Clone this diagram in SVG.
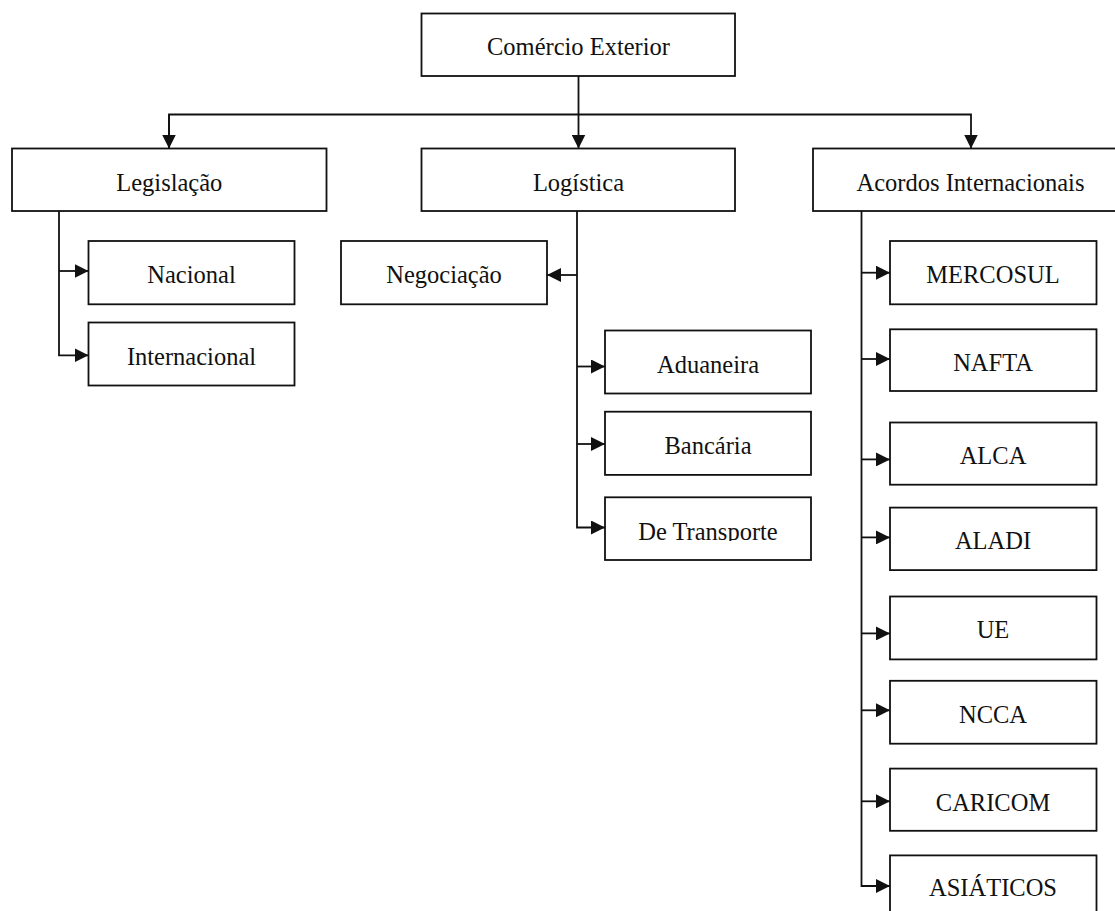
<svg xmlns="http://www.w3.org/2000/svg" width="1115" height="911" viewBox="0 0 1115 911">
<style>
  .box { fill: #fff; stroke: #111; stroke-width: 1.8; }
  .lbl { font-family: "Liberation Serif", "Times New Roman", serif; font-size: 24.5px; fill: #111; text-anchor: middle; }
  .ln { fill: none; stroke: #111; stroke-width: 1.8; }
</style>
<defs>
  <marker id="ah" markerUnits="userSpaceOnUse" markerWidth="14" markerHeight="14" viewBox="0 0 14 14" refX="14" refY="7" orient="auto">
    <path d="M0,0 L14,7 L0,14 Z" fill="#111"/>
  </marker>
  <clipPath id="clipDT"><rect x="600" y="490" width="220" height="51"/></clipPath>
</defs>
<rect width="1115" height="911" fill="#fff"/>

<g id="connectors">
  <path class="ln" d="M578.5,76 V148.5" marker-end="url(#ah)"/>
  <path class="ln" d="M169,148.5 V114.5 H971 V148.5" marker-end="url(#ah)"/>
  <path class="ln" d="M169,114.5 V148.5" marker-end="url(#ah)"/>
  <path class="ln" d="M59,211 V355.3 H88.5" marker-end="url(#ah)"/>
  <path class="ln" d="M59,271 H88.5" marker-end="url(#ah)"/>
  <path class="ln" d="M577,211 V527.5 H605" marker-end="url(#ah)"/>
  <path class="ln" d="M577,275 H547" marker-end="url(#ah)"/>
  <path class="ln" d="M577,366.5 H605" marker-end="url(#ah)"/>
  <path class="ln" d="M577,444 H605" marker-end="url(#ah)"/>
  <path class="ln" d="M861.5,211 V886 H890" marker-end="url(#ah)"/>
  <path class="ln" d="M861.5,272.7 H890" marker-end="url(#ah)"/>
  <path class="ln" d="M861.5,359 H890" marker-end="url(#ah)"/>
  <path class="ln" d="M861.5,459.4 H890" marker-end="url(#ah)"/>
  <path class="ln" d="M861.5,537.4 H890" marker-end="url(#ah)"/>
  <path class="ln" d="M861.5,633.4 H890" marker-end="url(#ah)"/>
  <path class="ln" d="M861.5,710.3 H890" marker-end="url(#ah)"/>
  <path class="ln" d="M861.5,801.3 H890" marker-end="url(#ah)"/>
</g>

<g id="n-comercio"><rect class="box" x="421.5" y="13.5" width="313.5" height="62.5"/><text class="lbl" x="578.5" y="55">Comércio Exterior</text></g>
<g id="n-legislacao"><rect class="box" x="12" y="148.5" width="314.5" height="62.5"/><text class="lbl" x="169.3" y="190.5">Legislação</text></g>
<g id="n-logistica"><rect class="box" x="421.5" y="148.5" width="313.5" height="62.5"/><text class="lbl" x="578.5" y="190.5">Logística</text></g>
<g id="n-acordos"><rect class="box" x="813" y="148.5" width="315" height="62.5"/><text class="lbl" x="970.5" y="190.5">Acordos Internacionais</text></g>

<g id="n-nacional"><rect class="box" x="88.5" y="241" width="206" height="63.3"/><text class="lbl" x="191.5" y="283">Nacional</text></g>
<g id="n-internacional"><rect class="box" x="88.5" y="322.5" width="206" height="63"/><text class="lbl" x="191.5" y="364.5">Internacional</text></g>

<g id="n-negociacao"><rect class="box" x="341" y="241" width="206" height="63.3"/><text class="lbl" x="444" y="283">Negociação</text></g>
<g id="n-aduaneira"><rect class="box" x="605" y="330.5" width="206" height="63"/><text class="lbl" x="708" y="372.5">Aduaneira</text></g>
<g id="n-bancaria"><rect class="box" x="605" y="411.7" width="206" height="63.2"/><text class="lbl" x="708" y="453.5">Bancária</text></g>
<g id="n-transporte"><rect class="box" x="605" y="497.3" width="206" height="62.7"/><text class="lbl" x="708" y="540" clip-path="url(#clipDT)">De Transporte</text></g>

<g id="n-mercosul"><rect class="box" x="890" y="241" width="206.5" height="63.3"/><text class="lbl" x="993" y="283">MERCOSUL</text></g>
<g id="n-nafta"><rect class="box" x="890" y="329.3" width="206.5" height="61.7"/><text class="lbl" x="993" y="370.5">NAFTA</text></g>
<g id="n-alca"><rect class="box" x="890" y="422.5" width="206.5" height="62.2"/><text class="lbl" x="993" y="464.4">ALCA</text></g>
<g id="n-aladi"><rect class="box" x="890" y="507.6" width="206.5" height="62.5"/><text class="lbl" x="993" y="549">ALADI</text></g>
<g id="n-ue"><rect class="box" x="890" y="596.5" width="206.5" height="62.9"/><text class="lbl" x="993" y="638.3">UE</text></g>
<g id="n-ncca"><rect class="box" x="890" y="680.8" width="206.5" height="62.9"/><text class="lbl" x="993" y="722.6">NCCA</text></g>
<g id="n-caricom"><rect class="box" x="890" y="768.6" width="206.5" height="62.2"/><text class="lbl" x="993" y="810.8">CARICOM</text></g>
<g id="n-asiaticos"><rect class="box" x="890" y="855.4" width="206.5" height="70"/><text class="lbl" x="993" y="895.8">ASIÁTICOS</text></g>
</svg>
